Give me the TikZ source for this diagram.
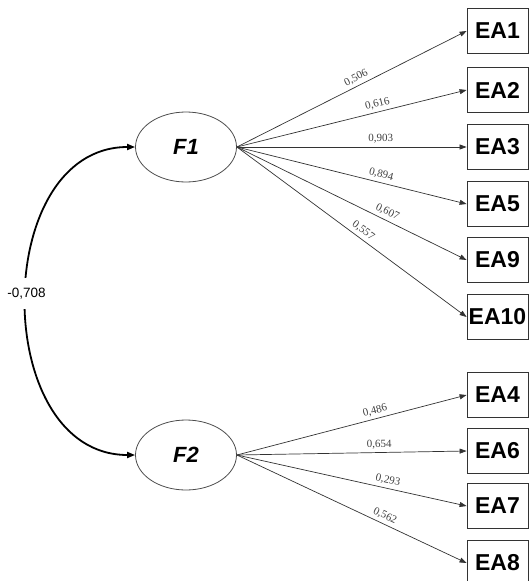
\documentclass[tikz,border=0pt]{standalone}
\usepackage{fontspec}
\setmainfont{Liberation Serif}
\setsansfont{Liberation Sans}
\usetikzlibrary{arrows.meta,shapes.geometric}
\tikzset{
  latent/.style={ellipse,draw=black!70,line width=0.8pt,minimum width=101pt,minimum height=70pt,inner sep=0pt,
    font=\sffamily\bfseries\itshape\fontsize{22}{24}\selectfont},
  obs/.style={rectangle,draw=black!80,line width=0.8pt,minimum width=61pt,minimum height=45pt,inner sep=0pt,
    font=\sffamily\bfseries\fontsize{23}{24}\selectfont},
  load/.style={draw=black!80,line width=0.7pt,-{Triangle[length=7pt,width=5pt]}},
  lbl/.style={sloped,above,inner sep=3pt,text=black!75,font=\rmfamily\fontsize{11}{12}\selectfont},
  cov/.style={draw=black,line width=1.8pt,{Triangle[length=8pt,width=6pt]}-{Triangle[length=8pt,width=6pt]}},
  covlbl/.style={fill=white,inner xsep=1pt,inner ysep=10pt,font=\sffamily\fontsize{13.5}{14}\selectfont}
}
\begin{document}
\begin{tikzpicture}[x=1pt,y=-1pt]
\useasboundingbox (0,0) rectangle (531,581);
\node[latent] (F1) at (186,147) {F1};
\node[latent] (F2) at (186,455) {F2};
\node[obs] (EA1) at (497.5,31) {EA1};
\node[obs] (EA2) at (497.5,90) {EA2};
\node[obs] (EA3) at (497.5,147) {EA3};
\node[obs] (EA5) at (497.5,204) {EA5};
\node[obs] (EA9) at (497.5,260) {EA9};
\node[obs] (EA10) at (497.5,317) {EA10};
\node[obs] (EA4) at (497.5,395) {EA4};
\node[obs] (EA6) at (497.5,451) {EA6};
\node[obs] (EA7) at (497.5,506) {EA7};
\node[obs] (EA8) at (497.5,563) {EA8};

\draw[load] (F1.east) -- node[lbl,pos=0.535] {0,506} (EA1.west);
\draw[load] (F1.east) -- node[lbl,pos=0.62] {0,616} (EA2.west);
\draw[load] (F1.east) -- node[lbl,pos=0.626] {0,903} (EA3.west);
\draw[load] (F1.east) -- node[lbl,pos=0.62] {0,894} (EA5.west);
\draw[load] (F1.east) -- node[lbl,pos=0.64] {0,607} (EA9.west);
\draw[load] (F1.east) -- node[lbl,pos=0.53] {0,557} (EA10.west);

\draw[load] (F2.east) -- node[lbl,pos=0.61] {0,486} (EA4.west);
\draw[load] (F2.east) -- node[lbl,pos=0.62] {0,654} (EA6.west);
\draw[load] (F2.east) -- node[lbl,pos=0.65] {0,293} (EA7.west);
\draw[load] (F2.east) -- node[lbl,pos=0.63] {0,562} (EA8.west);

\draw[cov] (F1.west) .. controls +(-145,0) and +(-145,0) .. node[covlbl,pos=0.484] {-0,708} (F2.west);
\end{tikzpicture}
\end{document}
